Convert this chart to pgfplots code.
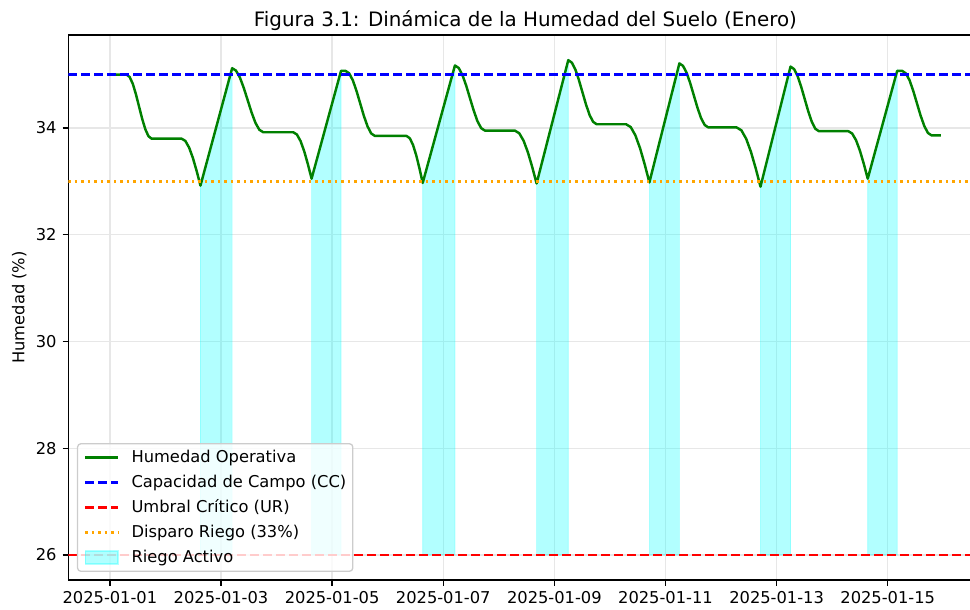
\documentclass[border=0pt]{standalone}
\usepackage{fontspec}
\setmainfont{DejaVu Sans}
\usepackage{pgfplots}
\pgfplotsset{compat=1.18}
\definecolor{mplgreen}{HTML}{008000}
\definecolor{mplblue}{HTML}{0000FF}
\definecolor{mplred}{HTML}{FF0000}
\definecolor{mplorange}{HTML}{FFA500}
\definecolor{mplcyan}{HTML}{00FFFF}
\definecolor{gridc}{HTML}{E7E7E7}
\definecolor{legedge}{HTML}{CCCCCC}

\begin{document}
\begin{tikzpicture}
\begin{axis}[
  name=ax,
  scale only axis,
  width=559.1bp, height=333.3bp,
  xmin=-0.748, xmax=15.706,
  ymin=25.532, ymax=35.742,
  xtick={0,2,4,6,8,10,12,14},
  xticklabels={2025-01-01,2025-01-03,2025-01-05,2025-01-07,2025-01-09,2025-01-11,2025-01-13,2025-01-15},
  ytick={26,28,30,32,34},
  xtick pos=bottom, ytick pos=left,
  tick align=outside,
  major tick length=3.5bp,
  tick style={black, line width=0.8bp},
  axis line style={black, line width=0.8bp},
  grid=major,
  major grid style={gridc, line width=0.8bp},
  tick label style={font=\fontsize{10}{12}\selectfont, inner sep=3.5bp},
  /pgf/number format/assume math mode=true,
  every axis title shift=0pt,
  title={Figura 3.1: Dinámica de la Humedad del Suelo (Enero)},
  title style={font=\fontsize{12.2}{14.6}\selectfont, at={(0.5,1)}, anchor=south, yshift=2.5bp, inner sep=0pt},
  ylabel={Humedad (\%)},
  ylabel style={font=\fontsize{10}{12}\selectfont, inner sep=0pt, yshift=2bp},
  legend style={
    at={(0.0094,0.0147)}, anchor=south west,
    font=\fontsize{10}{12}\selectfont,
    draw=legedge, line width=0.8bp, rounded corners=2bp,
    fill=white, fill opacity=0.8, draw opacity=1, text opacity=1,
    inner xsep=4bp, inner ysep=3bp,
    row sep=4.5bp,
    nodes={inner sep=0pt, text height=8.5bp, text depth=2.3bp},
    /tikz/every odd column/.append style={column sep=7.5bp},
  },
  legend cell align=left,
  legend image code/.code={\draw[#1] (0bp,0bp) -- (20bp,0bp);},
]
% riego activo (relleno desde 26 hasta la curva)
\addplot[fill=mplcyan, fill opacity=0.3, draw=mplcyan, draw opacity=0.3, forget plot]
  coordinates {(1.63,26) (1.63,32.92) (2.20,35.12) (2.20,26)} --cycle;
\addplot[fill=mplcyan, fill opacity=0.3, draw=mplcyan, draw opacity=0.3, forget plot]
  coordinates {(3.63,26) (3.63,33.05) (4.16,35.07) (4.16,26)} --cycle;
\addplot[fill=mplcyan, fill opacity=0.3, draw=mplcyan, draw opacity=0.3, forget plot]
  coordinates {(5.63,26) (5.63,32.97) (6.21,35.17) (6.21,26)} --cycle;
\addplot[fill=mplcyan, fill opacity=0.3, draw=mplcyan, draw opacity=0.3, forget plot]
  coordinates {(7.68,26) (7.68,32.96) (8.25,35.27) (8.25,26)} --cycle;
\addplot[fill=mplcyan, fill opacity=0.3, draw=mplcyan, draw opacity=0.3, forget plot]
  coordinates {(9.71,26) (9.71,32.98) (10.25,35.21) (10.25,26)} --cycle;
\addplot[fill=mplcyan, fill opacity=0.3, draw=mplcyan, draw opacity=0.3, forget plot]
  coordinates {(11.71,26) (11.71,32.90) (12.25,35.15) (12.25,26)} --cycle;
\addplot[fill=mplcyan, fill opacity=0.3, draw=mplcyan, draw opacity=0.3, forget plot]
  coordinates {(13.64,26) (13.64,33.05) (14.17,35.07) (14.17,26)} --cycle;

% humedad operativa
\addplot[mplgreen, line width=1.5bp, line join=round] coordinates {
(0,35.00) (0.30,35.00) (0.356,34.954) (0.413,34.825) (0.469,34.629) (0.525,34.40) (0.581,34.171) (0.638,33.975) (0.694,33.846) (0.75,33.80)
(1.29,33.80) (1.358,33.757) (1.426,33.632) (1.494,33.437) (1.562,33.192) (1.63,32.92)
(2.20,35.12) (2.27,35.074) (2.34,34.945) (2.41,34.749) (2.48,34.52) (2.55,34.291) (2.62,34.095) (2.69,33.966) (2.76,33.92)
(3.30,33.92) (3.366,33.877) (3.432,33.754) (3.498,33.562) (3.564,33.319) (3.63,33.05)
(4.16,35.07) (4.24,35.07) (4.306,35.024) (4.373,34.892) (4.439,34.693) (4.505,34.46) (4.571,34.227) (4.638,34.028) (4.704,33.896) (4.77,33.85)
(5.34,33.85) (5.398,33.807) (5.456,33.682) (5.514,33.487) (5.572,33.242) (5.63,32.97)
(6.21,35.17) (6.278,35.124) (6.345,34.992) (6.413,34.793) (6.48,34.56) (6.548,34.327) (6.615,34.128) (6.683,33.996) (6.75,33.95)
(7.29,33.95) (7.368,33.901) (7.446,33.761) (7.524,33.542) (7.602,33.266) (7.68,32.96)
(8.25,35.27) (8.314,35.224) (8.378,35.095) (8.441,34.899) (8.505,34.67) (8.569,34.441) (8.633,34.245) (8.696,34.116) (8.76,34.07)
(9.29,34.07) (9.374,34.017) (9.458,33.862) (9.542,33.621) (9.626,33.317) (9.71,32.98)
(10.25,35.21) (10.315,35.164) (10.38,35.035) (10.445,34.839) (10.51,34.61) (10.575,34.381) (10.64,34.185) (10.705,34.056) (10.77,34.01)
(11.28,34.01) (11.366,33.956) (11.452,33.798) (11.538,33.553) (11.624,33.243) (11.71,32.90)
(12.25,35.15) (12.314,35.104) (12.378,34.973) (12.441,34.776) (12.505,34.545) (12.569,34.314) (12.633,34.117) (12.696,33.986) (12.76,33.94)
(13.29,33.94) (13.36,33.896) (13.43,33.77) (13.50,33.573) (13.57,33.325) (13.64,33.05)
(14.17,35.07) (14.26,35.07) (14.326,35.024) (14.393,34.893) (14.459,34.696) (14.525,34.465) (14.591,34.234) (14.658,34.037) (14.724,33.906) (14.79,33.86)
(14.958,33.86)
};
\addlegendentry{Humedad Operativa}
\addplot[mplblue, line width=1.5bp, dash pattern=on 5.55bp off 2.4bp] coordinates {(-0.748,35) (15.706,35)};
\addlegendentry{Capacidad de Campo (CC)}
\addplot[mplred, line width=1.5bp, dash pattern=on 5.55bp off 2.4bp] coordinates {(-0.748,26) (15.706,26)};
\addlegendentry{Umbral Crítico (UR)}
\addplot[mplorange, line width=1.5bp, dash pattern=on 1.5bp off 2.475bp] coordinates {(-0.748,33) (15.706,33)};
\addlegendentry{Disparo Riego (33\%)}
\addlegendimage{legend image code/.code={\path[fill=mplcyan, fill opacity=0.3, draw=mplcyan, draw opacity=0.3, line width=1bp, sharp corners] (0bp,-4bp) rectangle (20bp,4bp);}}
\addlegendentry{Riego Activo}
\end{axis}
\pgfresetboundingbox
\path[use as bounding box] ([xshift=-41.8bp,yshift=-18.35bp]ax.south west) rectangle ([xshift=-7.65bp,yshift=21.4bp]ax.north east);
\end{tikzpicture}
\end{document}
